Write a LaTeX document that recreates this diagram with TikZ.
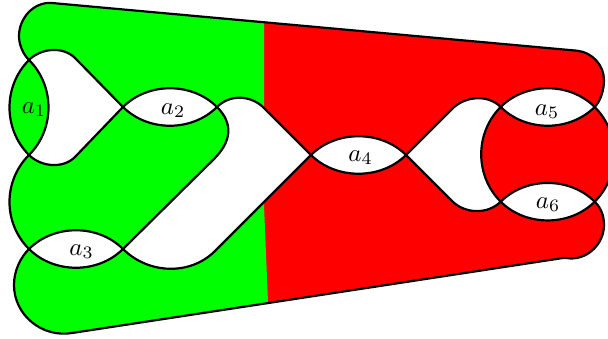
\documentclass[tikz,border=0pt]{standalone}
\usepackage{amsmath,amssymb}
\usepackage{tikz}
\usetikzlibrary{calc}

\newcommand{\outerpath}{
  (p1) .. controls +(-6,-6) and +(0,9) .. (19,36)
  .. controls +(0,-18) and +(-18,-1.6) .. (52,3)
  -- (577,50.7) .. controls +(15,1.5) and +(0,-15) .. (604,80)
  .. controls +(0,10) and +(6,-6) .. (x5)
  .. controls +(26,26) and +(26,-26) .. (x6)
  .. controls +(6,6) and +(0,-10) .. (604,225)
  .. controls +(0,18) and +(18,0) .. (571,258.5)
  .. controls +(-3,0) and +(3,-0.5) .. (563,258)
  -- (72,333) .. controls +(-30,5) and +(0,30) .. (14,285)
  .. controls +(0,-15) and +(-8,8) .. (s3)
  .. controls +(-26,-26) and +(-26,26) .. (p2)
  .. controls +(-26,-26) and +(-26,26) .. (p1) -- cycle
}

\begin{document}
\begin{tikzpicture}[
  x=1pt, y=-1pt,
  knot/.style={draw=black, line width=2.2pt, line join=round},
  gap/.style={knot, fill=white},
  lens/.style={scale=2.5, inner sep=0pt},
]
\useasboundingbox (0,0) rectangle (608,339);

% Crossings
\coordinate (p1) at (29,60);
\coordinate (p2) at (29,155);
\coordinate (q2) at (123,107);
\coordinate (r2) at (217,107);
\coordinate (s3) at (29,249);
\coordinate (t3) at (123,249);
\coordinate (u4) at (311,155);
\coordinate (v4) at (406,155);
\coordinate (w5) at (500.7,107);
\coordinate (x5) at (594.7,107);
\coordinate (w6) at (500.7,201.7);
\coordinate (x6) at (594.7,201.7);

% Coloured surface
\fill[red] \outerpath;
\begin{scope}
  \clip (0,0) -- (264,0) -- (264,205) -- (269.5,339) -- (0,339) -- cycle;
  \fill[green] \outerpath;
\end{scope}

% White holes
\draw[gap] (p1) .. controls +(12,-12) and +(-12,-12) .. (75,58) -- (q2) -- (75,157)
  .. controls +(-12,12) and +(12,12) .. (p2)
  .. controls +(26,-26) and +(26,26) .. (p1) -- cycle;
\draw[gap] (r2) .. controls +(13,-13) and +(-13,-13) .. (264,108) -- (u4) -- (215,251)
  .. controls +(-25,25) and +(25,25) .. (t3) -- (214,159)
  .. controls +(17,-17) and +(17,17) .. (r2) -- cycle;
\draw[gap] (v4) -- (452,109) .. controls +(13,-13) and +(-13,-13) .. (w5)
  .. controls +(-26,26) and +(-26,-26) .. (w6)
  .. controls +(-13,13) and +(13,13) .. (452,201) -- (v4) -- cycle;

% Lenses
\draw[gap] (q2) .. controls +(25,-25) and +(-25,-25) .. (r2)
  .. controls +(-25,25) and +(25,25) .. (q2) -- cycle;
\draw[gap] (s3) .. controls +(25,-25) and +(-25,-25) .. (t3)
  .. controls +(-25,25) and +(25,25) .. (s3) -- cycle;
\draw[gap] (u4) .. controls +(25,-25) and +(-25,-25) .. (v4)
  .. controls +(-25,25) and +(25,25) .. (u4) -- cycle;
\draw[gap] (w5) .. controls +(25,-25) and +(-25,-25) .. (x5)
  .. controls +(-25,25) and +(25,25) .. (w5) -- cycle;
\draw[gap] (w6) .. controls +(25,-25) and +(-25,-25) .. (x6)
  .. controls +(-25,25) and +(25,25) .. (w6) -- cycle;

% Outline on top
\draw[knot] \outerpath;

% Labels
\node[lens] (a1) at (34,109.5) {$a_1$};
\node[lens] (a2) at (173,110.5) {$a_2$};
\node[lens] (a3) at (81.5,251.5) {$a_3$};
\node[lens] (a4) at (360.5,157.5) {$a_4$};
\node[lens] (a5) at (547,111.5) {$a_5$};
\node[lens] (a6) at (548,204.5) {$a_6$};
\end{tikzpicture}
\end{document}
